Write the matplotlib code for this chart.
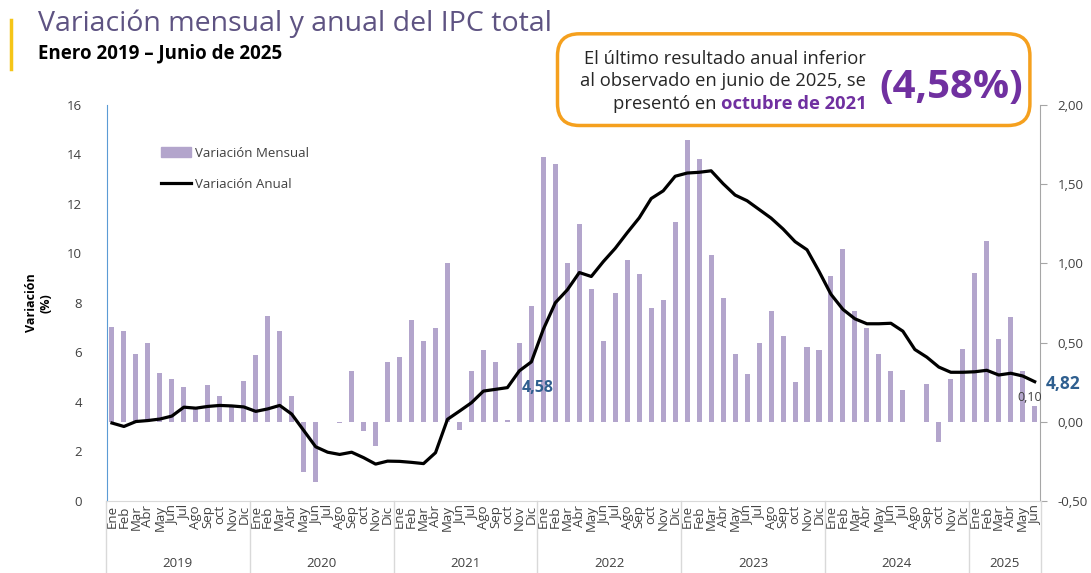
import matplotlib.pyplot as plt
import numpy as np
from matplotlib.patches import FancyBboxPatch, Patch
from matplotlib.lines import Line2D

plt.rcParams['font.family'] = ['Open Sans', 'DejaVu Sans']

# data: IPC Colombia, Jan 2019 - Jun 2025
years = ['2019', '2020', '2021', '2022', '2023', '2024', '2025']
months = ['Ene', 'Feb', 'Mar', 'Abr', 'May', 'Jun', 'Jul', 'Ago', 'Sep', 'oct', 'Nov', 'Dic']
mensual = [0.60, 0.57, 0.43, 0.50, 0.31, 0.27, 0.22, 0.09, 0.23, 0.16, 0.10, 0.26,
           0.42, 0.67, 0.57, 0.16, -0.32, -0.38, 0.00, -0.01, 0.32, -0.06, -0.15, 0.38,
           0.41, 0.64, 0.51, 0.59, 1.00, -0.05, 0.32, 0.45, 0.38, 0.01, 0.50, 0.73,
           1.67, 1.63, 1.00, 1.25, 0.84, 0.51, 0.81, 1.02, 0.93, 0.72, 0.77, 1.26,
           1.78, 1.66, 1.05, 0.78, 0.43, 0.30, 0.50, 0.70, 0.54, 0.25, 0.47, 0.45,
           0.92, 1.09, 0.70, 0.59, 0.43, 0.32, 0.20, 0.00, 0.24, -0.13, 0.27, 0.46,
           0.94, 1.14, 0.52, 0.66, 0.32, 0.10]
anual = [3.15, 3.01, 3.21, 3.25, 3.31, 3.43, 3.79, 3.75, 3.82, 3.86, 3.84, 3.80,
         3.62, 3.72, 3.86, 3.51, 2.85, 2.19, 1.97, 1.88, 1.97, 1.75, 1.49, 1.61,
         1.60, 1.56, 1.51, 1.95, 3.30, 3.63, 3.97, 4.44, 4.51, 4.58, 5.26, 5.62,
         6.94, 8.01, 8.53, 9.23, 9.07, 9.67, 10.21, 10.84, 11.44, 12.22, 12.53, 13.12,
         13.25, 13.28, 13.34, 12.82, 12.36, 12.13, 11.78, 11.43, 10.99, 10.48, 10.15, 9.28,
         8.35, 7.74, 7.36, 7.16, 7.16, 7.18, 6.86, 6.12, 5.81, 5.41, 5.20, 5.20,
         5.22, 5.28, 5.09, 5.16, 5.05, 4.82]

n = len(anual)
labels = (months * 7)[:n]
x = np.arange(n)

bar_color = '#b3a5cc'
purple = '#7030a0'

fig = plt.figure(figsize=(10.91, 5.73), dpi=100)
ax = fig.add_axes([0.098, 0.1257, 0.855, 0.6911])
ax2 = ax.twinx()

ax2.bar(x, mensual, width=0.42, color=bar_color)
ax.plot(x, anual, color='black', lw=2.3)
ax.set_zorder(ax2.get_zorder() + 1)
ax.patch.set_visible(False)

ax.set_xlim(-0.42, n - 1 + 0.42)
ax.set_ylim(0, 16)
ax.set_yticks(range(0, 17, 2))
ax2.set_ylim(-0.5, 2.0)
ax2.set_yticks([-0.5, 0, 0.5, 1.0, 1.5, 2.0])
ax2.set_yticklabels(['-0,50', '0,00', '0,50', '1,00', '1,50', '2,00'])

ax.set_xticks(x)
ax.set_xticklabels(labels, rotation=90, fontsize=9.5, color='#404040')
ax.tick_params(axis='x', length=0, pad=3)
ax.tick_params(axis='y', length=0, labelsize=9.5, colors='#404040', pad=18)
ax2.tick_params(axis='y', length=5, color='#a6a6a6', labelsize=9.5, labelcolor='#404040', pad=8)

for a in (ax, ax2):
    a.spines['top'].set_visible(False)
ax.spines['left'].set_color('#5b9bd5')
ax.spines['right'].set_visible(False)
ax.spines['bottom'].set_color('#d9d9d9')
ax2.spines['left'].set_visible(False)
ax2.spines['bottom'].set_visible(False)
ax2.spines['right'].set_color('#a6a6a6')

# year groups
trans = ax.get_xaxis_transform()
for i, yr in enumerate(years):
    start = i * 12 - 0.5
    end = min(i * 12 + 11.5, n - 0.5)
    ax.add_line(Line2D([start, start], [0, -0.19], transform=trans, color='#d9d9d9', lw=1, clip_on=False))
    ax.text((start + end) / 2, -0.157, yr, transform=trans, ha='center', va='center',
            fontsize=9.5, color='#404040')
ax.add_line(Line2D([n - 0.5, n - 0.5], [0, -0.19], transform=trans, color='#d9d9d9', lw=1, clip_on=False))

# data labels
ax.annotate('4,58', (33, anual[33]), xytext=(14, 0), textcoords='offset pixels',
            ha='left', va='center', fontsize=11.5, fontweight='bold', color='#2f5f8f')
ax.annotate('4,82', (n - 1, anual[-1]), xytext=(11, -2), textcoords='offset pixels',
            ha='left', va='center', fontsize=12.5, fontweight='bold', color='#2f5f8f')
ax2.annotate('0,10', (n - 1, mensual[-1]), xytext=(-5, 2), textcoords='offset pixels',
             ha='center', va='bottom', fontsize=9, color='#404040')

ax.set_ylabel('Variación\n(%)', fontsize=9, fontweight='bold', labelpad=10, linespacing=1.2)

# legend
handles = [Patch(color=bar_color), Line2D([], [], color='black', lw=2.3)]
ax.legend(handles, ['Variación Mensual', 'Variación Anual'], loc='upper left',
          bbox_to_anchor=(0.045, 0.925), frameon=False, fontsize=9.5, labelspacing=1.4,
          handlelength=2.3, handletextpad=0.3, labelcolor='#404040')

# title block
fig.add_artist(Line2D([0.0105, 0.0105], [0.88, 0.965], color='#f5c518', lw=2.5))
fig.text(0.035, 0.958, 'Variación mensual y anual del IPC total', fontsize=20.5,
         color='#5e5382', va='center', ha='left')
fig.text(0.035, 0.906, 'Enero 2019 – Junio de 2025', fontsize=13.5, fontweight='bold',
         color='black', va='center', ha='left')

# callout box
box = FancyBboxPatch((0.511, 0.781), 0.433, 0.160, boxstyle='round,pad=0,rounding_size=0.02',
                     transform=fig.transFigure, fc='white', ec='#f5a01e', lw=2.5,
                     mutation_aspect=1.9)
fig.add_artist(box)
tkw = dict(fontsize=13.2, ha='right', va='center', color='#262626')
fig.text(0.794, 0.897, 'El último resultado anual inferior', **tkw)
fig.text(0.794, 0.858, 'al observado en junio de 2025, se', **tkw)
oct_txt = fig.text(0.794, 0.819, 'octubre de 2021', fontsize=13.2, ha='right', va='center',
                   color=purple, fontweight='bold')
fig.canvas.draw()
bb = oct_txt.get_window_extent().transformed(fig.transFigure.inverted())
fig.text(bb.x0 - 0.004, 0.819, 'presentó en', **tkw)
fig.text(0.872, 0.847, '(4,58%)', fontsize=29, ha='center', va='center', color=purple,
         fontweight='bold')

fig.savefig('out.png', dpi=100)
